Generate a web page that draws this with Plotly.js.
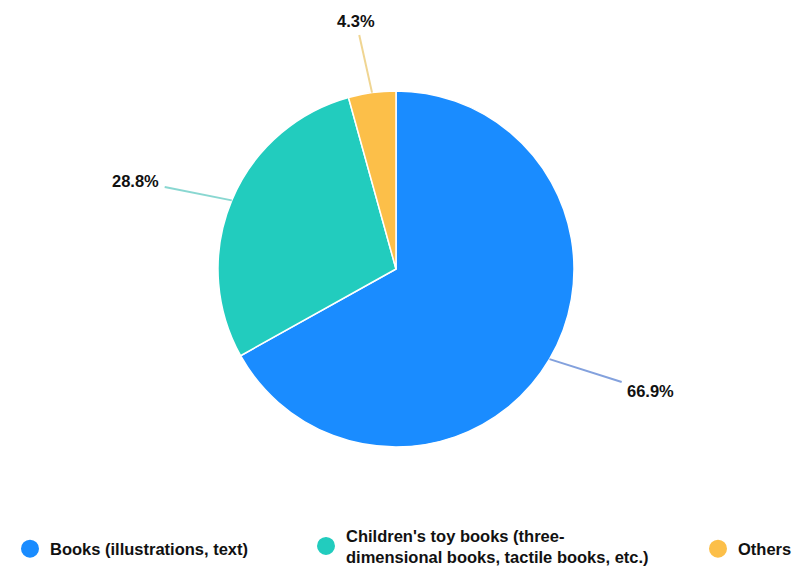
<!DOCTYPE html>
<html>
<head>
<meta charset="utf-8">
<script src="https://cdn.plot.ly/plotly-3.0.1.min.js"></script>
<style>html,body{margin:0;padding:0;background:#fff;}#chart{width:798px;height:568px;}</style>
</head>
<body>
<div id="chart"></div>
<script>
const categories = ["Books (illustrations, text)", "Children's toy books (three-dimensional books, tactile books, etc.)", "Others"];
const legendLabels = ["Books (illustrations, text)", "Children's toy books (three-<br>dimensional books, tactile books, etc.)", "Others"];
const shares = [66.9, 28.8, 4.3];
const colors = ["#1a8cff", "#22ccbe", "#fcbf49"];
const lineColors = ["rgba(90,130,210,0.75)", "rgba(60,190,180,0.6)", "rgba(235,200,110,0.75)"];

const W = 798, H = 568;
const cx = 396, cy = 269, R = 178;           // pie centre and radius in pixels
const labelOffsets = [[101, 32], [-96, -19], [-16, -72]]; // text offset from slice edge (px)
const fontFam = "Liberation Sans, Arial, Helvetica, sans-serif";

const pie = {
  type: "pie",
  labels: categories,
  values: shares,
  sort: false,
  direction: "clockwise",
  rotation: 0,
  marker: {colors: colors, line: {color: "#ffffff", width: 1.5}},
  textinfo: "none",
  hoverinfo: "label+percent",
  showlegend: false,
  domain: {x: [(cx - R) / W, (cx + R) / W], y: [1 - (cy + R) / H, 1 - (cy - R) / H]}
};

// legend entries (circle markers), one legend each
const legendNames = ["legend", "legend2", "legend3"];
const legendTraces = categories.map((c, i) => ({
  type: "scatter", mode: "markers", x: [null], y: [null],
  name: legendLabels[i], legend: legendNames[i], showlegend: true,
  marker: {color: colors[i], size: 16, symbol: "circle", line: {color: colors[i], width: 2}},
  hoverinfo: "skip"
}));

// percentage labels with leader lines pointing at each slice's mid-angle
const total = shares.reduce((a, b) => a + b, 0);
let cum = 0;
const annotations = shares.map((v, i) => {
  const mid = (cum + v / 2) / total * 2 * Math.PI;
  cum += v;
  const px = cx + R * Math.sin(mid);
  const py = cy - R * Math.cos(mid);
  return {
    xref: "paper", yref: "paper", x: px / W, y: 1 - py / H,
    ax: labelOffsets[i][0], ay: labelOffsets[i][1],
    text: v.toFixed(1) + "%", showarrow: true, arrowhead: 0, arrowwidth: 2,
    arrowcolor: lineColors[i], startstandoff: 4,
    font: {family: fontFam, size: 16.5, color: "#111111", weight: "bold"}
  };
});

const legendX = [10, 306, 698];
const legendY = [549, 546, 549];
const layout = {
  width: W, height: H,
  margin: {l: 0, r: 0, t: 0, b: 0, autoexpand: false},
  paper_bgcolor: "#ffffff", plot_bgcolor: "#ffffff",
  xaxis: {visible: false}, yaxis: {visible: false},
  annotations: annotations,
  showlegend: true
};
legendNames.forEach((ln, i) => {
  layout[ln] = {
    x: legendX[i] / W, y: 1 - legendY[i] / H, xanchor: "left", yanchor: "middle",
    orientation: "v", bgcolor: "rgba(0,0,0,0)",
    font: {family: fontFam, size: 16.5, color: "#111111", weight: "bold"},
    itemclick: false, itemdoubleclick: false
  };
});

Plotly.newPlot("chart", [pie].concat(legendTraces), layout, {displayModeBar: false, staticPlot: true});
</script>
</body>
</html>
